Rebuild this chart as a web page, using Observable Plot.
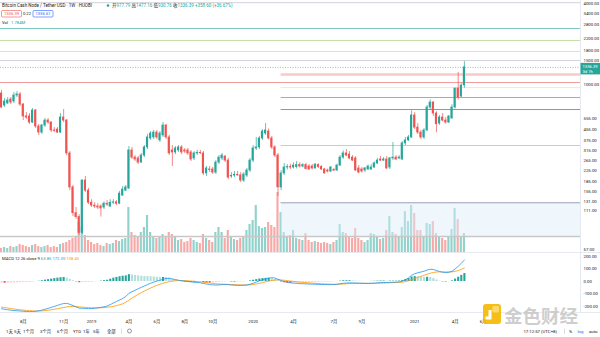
<!DOCTYPE html>
<html><head><meta charset="utf-8">
<script src="https://cdn.jsdelivr.net/npm/d3@7"></script>
<script src="https://cdn.jsdelivr.net/npm/@observablehq/plot@0.6"></script>
<style>
body{margin:0;background:#fff;}
#wrap{position:relative;width:600px;height:337px;overflow:hidden;background:#fff;}
#wrap svg{position:absolute;left:0;}
</style></head><body><div id="wrap"></div>
<script>
// ---------- data ----------
const startWeek = "2018-06-18";
const open = [
850,690,715,766,740,821,836,702,571,571,
514,633,480,432,488,532,514,448,455,432,
561,532,301,167,107,100,76,188,158,128,
122,120,120,118,126,120,128,129,126,145,
158,164,317,280,276,257,290,334,390,397,
432,377,411,488,397,317,306,317,334,317,
317,306,276,301,304,301,213,228,228,216,
257,276,285,266,202,205,208,206,188,205,
224,266,328,334,390,425,440,390,334,290,
167,213,236,238,236,238,246,240,246,240,
240,232,246,238,228,224,220,226,224,244,
280,301,295,280,276,232,228,224,228,228,
236,253,271,266,271,236,276,280,276,271,
358,377,397,581,471,432,397,448,667,727,
601,505,561,532,514,551,667,926,807,977.79];
const high = [
896,780,793,793,865,880,865,715,611,601,
655,644,497,497,551,551,523,471,471,601,
644,542,311,173,118,104,191,202,164,135,
128,126,124,130,133,135,135,133,156,170,
173,339,334,290,285,301,345,418,440,448,
448,440,514,497,411,345,339,345,345,328,
328,317,311,317,317,311,240,240,236,266,
290,301,290,276,216,220,220,216,216,232,
276,345,397,404,455,505,460,404,345,301,
224,253,248,250,256,262,256,252,254,248,
248,252,252,244,232,230,240,232,250,290,
315,322,311,290,285,244,236,236,246,248,
260,276,285,280,285,280,364,290,290,370,
397,411,630,610,505,448,463,690,760,740,
620,580,600,560,580,700,930,1225,1010,1477.16];
const low = [
655,667,702,702,715,793,678,532,542,497,
505,463,411,418,471,497,432,432,425,425,
514,290,158,101,96,73,74,153,124,118,
116,114,100,114,120,118,124,122,124,143,
156,161,271,262,248,253,280,322,377,383,
383,364,397,383,290,240,295,306,295,301,
290,262,266,290,295,205,202,216,209,209,
248,266,257,191,195,198,202,182,182,198,
216,257,317,322,377,411,380,322,280,143,
158,205,226,228,230,230,234,234,226,224,
226,230,232,224,210,214,216,220,220,240,
272,285,270,262,220,212,214,216,224,224,
232,248,262,262,228,228,266,266,270,266,
345,370,390,455,418,383,383,440,640,571,
430,490,520,500,505,545,650,760,790,930.76];
const close = [
667,740,753,727,821,836,702,571,561,514,
633,480,432,488,532,514,448,445,432,561,
532,301,167,107,100,76,188,158,128,122,
120,118,116,126,124,128,129,126,150,161,
167,317,280,271,257,290,334,397,425,432,
397,425,488,397,301,306,328,334,306,311,
301,271,301,304,302,213,232,226,216,257,
280,290,266,198,204,208,206,188,209,224,
266,328,334,390,440,448,390,334,290,167,
213,236,238,236,244,246,240,246,230,228,
232,248,238,228,213,220,236,224,244,280,
301,290,276,266,224,216,220,232,240,236,
253,266,266,271,232,276,280,271,280,358,
377,397,581,471,432,397,448,667,727,601,
500,561,532,514,571,667,926,793,976,1336.39];
// volume in millions
const volume = [
0.38,0.47,0.38,0.56,0.47,0.56,0.75,0.66,0.56,0.47,
0.66,0.75,0.56,0.47,0.56,0.66,0.47,0.56,0.47,0.75,
0.85,0.94,1.13,1.32,1.50,2.82,2.35,1.60,1.13,0.94,
0.75,0.85,0.66,0.56,0.85,0.75,0.85,1.13,1.03,1.22,
1.32,4.23,1.88,1.60,1.41,1.88,2.35,3.48,1.88,1.50,
1.32,1.41,1.69,1.50,1.88,1.69,1.41,1.13,1.22,0.94,
1.03,1.32,1.13,0.94,0.85,1.69,1.32,1.13,0.94,1.88,
2.35,1.88,1.32,2.07,1.41,1.22,1.13,1.32,1.50,2.07,
2.63,3.01,4.42,2.44,2.26,2.35,2.82,2.54,2.35,5.64,
3.76,1.88,1.50,1.60,2.07,1.32,1.22,1.13,1.78,1.13,
0.94,1.03,0.94,0.85,0.94,0.85,0.75,0.94,1.13,2.63,
1.88,1.78,1.41,1.32,2.26,1.32,1.13,0.94,1.13,1.78,
1.69,1.41,1.22,1.32,2.07,3.38,1.88,1.69,1.41,2.35,
3.85,2.91,4.42,3.67,2.07,2.07,1.50,2.73,2.63,2.91,
1.78,1.41,1.32,1.13,1.50,2.16,4.14,3.10,1.41,1.784];
const macdLine = [
-218,-222,-226,-229,-232,-234,-236,-238,-240,-241,
-240,-238,-234,-229,-222,-215,-207,-199,-191,-183,
-176,-175,-182,-193,-203,-213,-214,-216,-217,-216,
-214,-211,-207,-202,-196,-185,-172,-160,-148,-136,
-120,-95,-82,-70,-58,-47,-36,-25,-14,-5,
3,10,18,24,26,20,16,10,6,3,
0,-3,-6,-8,-10,-16,-20,-24,-27,-28,
-27,-25,-24,-25,-28,-30,-31,-31,-30,-28,
-22,-14,-5,5,14,22,28,30,28,18,
8,0,-6,-10,-13,-15,-17,-18,-19,-20,
-21,-22,-23,-24,-24,-25,-25,-24,-22,-18,
-14,-12,-11,-11,-12,-13,-14,-15,-15,-14,
-13,-11,-9,-8,-8,-7,-6,-5,-3,2,
15,28,50,62,70,76,82,92,98,96,
88,80,74,72,74,82,100,122,146,172.3];
const signalLine = [
-205,-208,-212,-216,-220,-223,-226,-229,-231,-233,
-235,-236,-236,-235,-233,-230,-226,-222,-218,-213,
-208,-203,-200,-199,-200,-203,-205,-207,-209,-210,
-211,-211,-210,-209,-206,-203,-199,-193,-186,-178,
-165,-150,-134,-118,-103,-89,-76,-64,-52,-41,
-31,-22,-14,-7,-1,3,6,8,8,8,
6,4,2,-1,-3,-6,-9,-12,-15,-18,
-20,-21,-22,-23,-24,-25,-26,-27,-28,-28,
-27,-24,-20,-15,-9,-3,3,8,12,13,
12,10,7,4,1,-2,-5,-7,-9,-11,
-13,-15,-16,-18,-19,-20,-21,-22,-22,-21,
-20,-18,-17,-16,-15,-15,-15,-15,-15,-15,
-15,-14,-13,-12,-11,-10,-9,-8,-7,-5,
-1,5,14,23,32,41,49,58,66,72,
76,77,77,76,76,77,81,88,97,108.45];

const priceTicks = [4000,3400,2800,2200,1800,1500,1000,840,680,555,455,375,315,265,225,185,155,131,111,93.5,79.5,67.5,57];
const macdTicks = [200,100,0,-100,-200];
const timeTickDates = ["2018-08-06","2018-11-05","2019-01-07","2019-04-01","2019-06-03","2019-08-05","2019-10-07","2020-01-06","2020-04-06","2020-07-06","2020-09-07","2021-01-04","2021-04-05","2021-06-07"];
const timeTickLabels = ["8月","11月","2019","4月","6月","8月","10月","2020","4月","7月","9月","2021","4月","6月"];

// user-drawn horizontal levels
const levelPrices = [4100,2622,2129,1760,1506,1182,1028,943,793,644,345,128,71.4];
const levelStarts = ["2018-06-01","2018-06-01","2018-06-01","2018-06-01","2018-06-01","2020-03-09","2018-06-01","2020-03-09","2020-03-09","2020-03-09","2020-03-09","2020-03-09","2018-06-01"];
const levelColors = ["#c5c8d0","#80cbc4","#c5e1a5","#d1d4dc","#c5c8d0","#f8c9c9","#ef9a9a","#e3e3e3","#81c784","#4db6ac","#a6d4f2","#9e9eb8","#c8c8c8"];
const levelWidths = [0.8,1,1,0.8,0.8,2.6,1,0.8,1,1,1,1,1.6];
const zoneLow = 71.4, zoneHigh = 128, zoneStart = "2020-03-09";
const lastClose = 1336.39;

// ---------- layout ----------
const up = "#26a69a", down = "#ef5350";
const xDomain = [new Date("2018-06-15T18:00Z"), new Date("2022-01-12T14:00Z")];
const font = "Roboto, 'Noto Sans CJK SC', sans-serif";
const PR = 20;

const dates = open.map((_, i) => d3.utcDay.offset(new Date(startWeek), 7 * i));
const bars = dates.map((date, i) => ({
  date, o: open[i], h: high[i], l: low[i], c: close[i], v: volume[i],
  m: macdLine[i], s: signalLine[i], hist: +(macdLine[i] - signalLine[i]).toFixed(2), i
}));
bars.forEach((d, i) => {
  const prev = i ? bars[i - 1].hist : d.hist;
  d.hcol = d.hist >= 0 ? (d.hist >= prev ? "#26a69a" : "#b2dfdb") : (d.hist < prev ? "#ff5252" : "#ffcdd2");
});
const levels = levelPrices.map((p, i) => ({price: p, start: new Date(levelStarts[i]), color: levelColors[i], w: levelWidths[i]}));
const bx1 = d => d3.utcHour.offset(d.date, -58), bx2 = d => d3.utcHour.offset(d.date, 58);
const col = d => d.c >= d.o ? up : down;

const wrap = document.getElementById("wrap");

// volume layer
const volPlot = Plot.plot({
  width: 600, height: 252, marginLeft: 0, marginRight: PR, marginTop: 0, marginBottom: 0,
  x: {type: "utc", domain: xDomain, axis: null},
  y: {domain: [0, 23.7], axis: null},
  style: {background: "transparent"},
  marks: [
    Plot.rect(bars, {x1: bx1, x2: bx2, y1: 0, y2: "v", fill: col, fillOpacity: 0.5})
  ]
});
volPlot.style.top = "0px";
wrap.appendChild(volPlot);

// price layer
const pricePlot = Plot.plot({
  width: 600, height: 252, marginLeft: 0, marginRight: PR, marginTop: 0, marginBottom: 0,
  x: {type: "utc", domain: xDomain, axis: null},
  y: {type: "log", domain: [54.1, 4258], axis: "right", ticks: priceTicks, tickFormat: d => d.toFixed(2), tickSize: 0, tickPadding: 3, label: null},
  style: {background: "transparent", fontSize: "4.3px", fontFamily: font, color: "#131722"},
  marks: [
    Plot.rect([0], {x1: () => new Date(zoneStart), x2: () => xDomain[1], y1: () => zoneLow, y2: () => zoneHigh, fill: "#dcedfb", fillOpacity: 0.45}),
    Plot.ruleY(levels, {y: "price", x1: "start", x2: () => xDomain[1], stroke: "color", strokeWidth: "w"}),
    Plot.ruleY([lastClose], {stroke: up, strokeWidth: 0.6, strokeDasharray: "1,1.5"}),
    Plot.ruleX(bars, {x: "date", y1: "l", y2: "h", stroke: col, strokeWidth: 0.7}),
    Plot.rect(bars, {x1: bx1, x2: bx2, y1: "o", y2: "c", fill: col, insetTop: -0.4, insetBottom: -0.4})
  ]
});
pricePlot.style.top = "0px";
wrap.appendChild(pricePlot);

// MACD layer + time axis
const tickDateObjs = timeTickDates.map(s => new Date(s));
const tickLabelMap = new Map(tickDateObjs.map((d, i) => [+d, timeTickLabels[i]]));
const macdPlot = Plot.plot({
  width: 600, height: 74, marginLeft: 0, marginRight: PR, marginTop: 0, marginBottom: 14,
  x: {type: "utc", domain: xDomain, ticks: tickDateObjs, tickFormat: d => tickLabelMap.get(+d), tickSize: 0, tickPadding: 7, label: null},
  y: {domain: [-248, 232], axis: "right", ticks: macdTicks, tickFormat: d => d.toFixed(2), tickSize: 0, tickPadding: 3, label: null},
  style: {background: "transparent", fontSize: "4.3px", fontFamily: font, color: "#131722"},
  marks: [
    Plot.ruleX(bars, {x: "date", y1: 0, y2: "hist", stroke: "hcol", strokeWidth: 2.1}),
    Plot.lineY(bars, {x: "date", y: "s", stroke: "#ff9800", strokeWidth: 0.8}),
    Plot.lineY(bars, {x: "date", y: "m", stroke: "#2196f3", strokeWidth: 0.8})
  ]
});
macdPlot.style.top = "252px";
wrap.appendChild(macdPlot);

// ---------- overlay: borders, header, tag, toolbar, watermark ----------
const svg = d3.select(wrap).append("svg").attr("width", 600).attr("height", 337)
  .style("top", "0px").style("pointer-events", "none").style("font-family", font);
const line = (x1, y1, x2, y2, c, w) => svg.append("line").attr("x1", x1).attr("y1", y1).attr("x2", x2).attr("y2", y2).attr("stroke", c).attr("stroke-width", w);
line(0, 252.5, 600, 252.5, "#e0e3eb", 0.8);
line(0, 312.5, 600, 312.5, "#e0e3eb", 0.8);
line(580.5, 0, 580.5, 312.5, "#e0e3eb", 0.8);

const txt = (x, y, s, o = {}) => svg.append("text").attr("x", x).attr("y", y).text(s)
  .attr("font-size", o.size || 4.5).attr("fill", o.fill || "#131722")
  .attr("text-anchor", o.anchor || "start").attr("font-weight", o.weight || 400);

// header
txt(2, 7, "Bitcoin Cash Node / Tether USD · 1W · HUOBI", {size: 4.5});
svg.append("circle").attr("cx", 108).attr("cy", 5.5).attr("r", 1.3).attr("fill", up);
const ohlc = svg.append("text").attr("x", 112).attr("y", 7).attr("font-size", 4.5);
[["开", "#131722"], ["977.79 ", up], ["高", "#131722"], ["1477.16 ", up], ["低", "#131722"], ["930.76 ", up], ["收", "#131722"], ["1336.39 ", up], ["+358.60 (+36.67%)", up]]
  .forEach(([s, c]) => ohlc.append("tspan").attr("fill", c).text(s));
svg.append("rect").attr("x", 1.5).attr("y", 10.5).attr("width", 20).attr("height", 6.5).attr("rx", 1).attr("fill", "#fff").attr("stroke", down).attr("stroke-width", 0.6);
txt(11.5, 15.4, "1336.39", {size: 4.2, fill: down, anchor: "middle"});
txt(27, 15.4, "0.22", {size: 4.2, anchor: "middle"});
svg.append("rect").attr("x", 33).attr("y", 10.5).attr("width", 20).attr("height", 6.5).attr("rx", 1).attr("fill", "#fff").attr("stroke", "#2962ff").attr("stroke-width", 0.6);
txt(43, 15.4, "1336.61", {size: 4.2, fill: "#2962ff", anchor: "middle"});
txt(2, 23.5, "Vol", {size: 4.2});
txt(11, 23.5, "1.784M", {size: 4.2, fill: up});

// last-price tag on the axis, positioned with the plot's own scale
const yTag = pricePlot.scale("y").apply(lastClose);
svg.append("rect").attr("x", 580.5).attr("y", yTag - 4).attr("width", 19.5).attr("height", 11.5).attr("fill", up);
txt(582.5, yTag + 1.5, lastClose.toFixed(2), {size: 4.2, fill: "#fff"});
txt(582.5, yTag + 6, "3d 7h", {size: 4.2, fill: "#fff"});

// MACD legend
const ml = svg.append("text").attr("x", 2).attr("y", 259.5).attr("font-size", 4.2);
[["MACD 12 26 close 9  ", "#131722"], ["63.85  ", up], ["172.30  ", "#2196f3"], ["108.45", "#ff9800"]]
  .forEach(([s, c]) => ml.append("tspan").attr("fill", c).text(s));

// watermark (drawn before the toolbar text)
const wm = svg.append("g").attr("opacity", 0.9);
wm.append("rect").attr("x", 483).attr("y", 304).attr("width", 18).attr("height", 20).attr("rx", 3).attr("fill", "#f5b800");
wm.append("rect").attr("x", 492.5).attr("y", 306).attr("width", 6.5).attr("height", 6.5).attr("rx", 1).attr("fill", "#fcd75a");
wm.append("path").attr("d", "M488.5 310 h3 v9.5 h-6 v-3 h3 z").attr("fill", "#fff");
wm.append("text").attr("x", 504).attr("y", 323).text("金色财经")
  .attr("font-size", 18.5).attr("font-family", "'Noto Sans CJK SC'").attr("font-weight", 700)
  .attr("fill", "#c9c9c9").attr("stroke", "#fff").attr("stroke-width", 1.2).attr("paint-order", "stroke");

// bottom toolbar
const tb = ["1天", "5天", "1个月", "3个月", "6个月", "YTD", "1年", "5年", "全部"];
const tbx = [6, 14, 23, 40, 57, 73, 83, 93, 107];
tb.forEach((s, i) => txt(tbx[i], 332.5, s, {size: 4.3}));
line(121.5, 328.5, 121.5, 334, "#c8c8c8", 0.6);
svg.append("circle").attr("cx", 129.5).attr("cy", 331).attr("r", 2).attr("fill", "none").attr("stroke", "#555").attr("stroke-width", 0.6);
txt(557, 332.5, "17:12:57 (UTC+8)", {size: 4.3, anchor: "end"});
line(564.5, 328.5, 564.5, 334, "#c8c8c8", 0.6);
txt(569, 332.5, "%", {size: 4.3});
txt(577.5, 332.5, "log", {size: 4.3, fill: "#2962ff"});
txt(589, 332.5, "auto", {size: 4.3});
</script>
</body></html>
